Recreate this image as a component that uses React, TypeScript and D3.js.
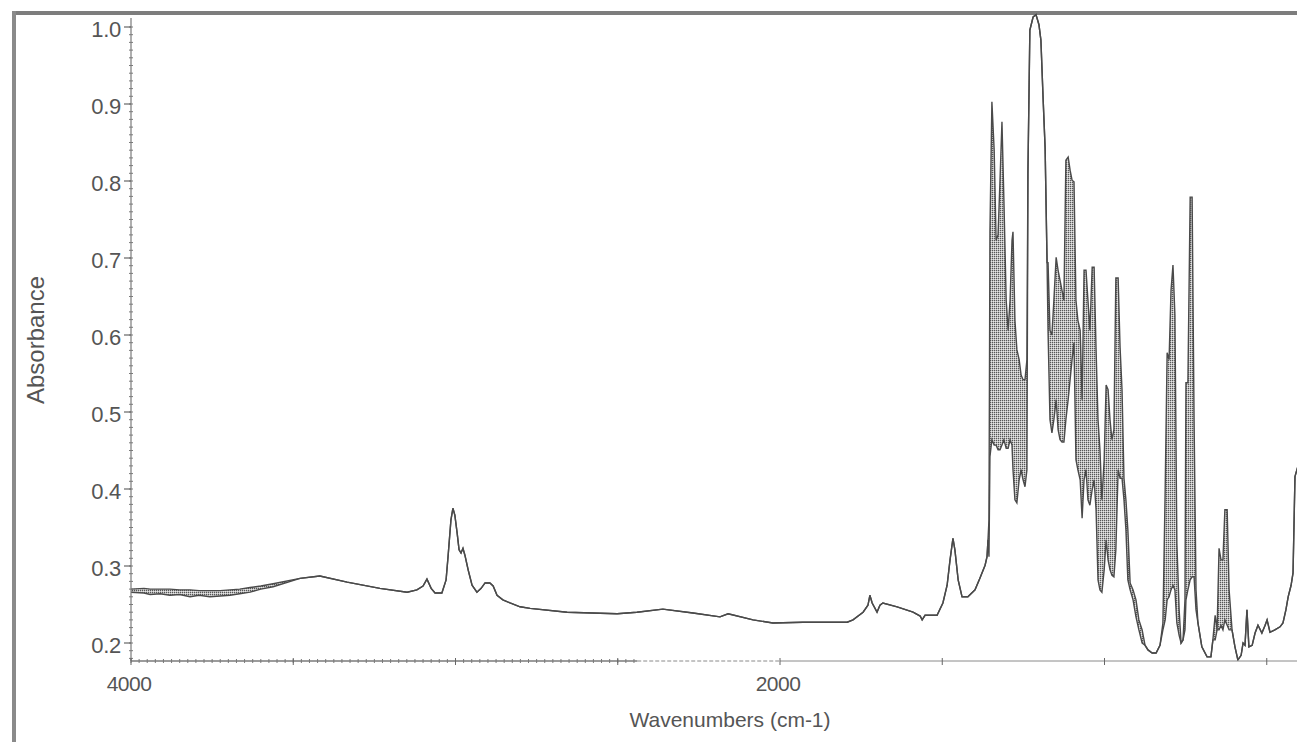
import React from "react";
import * as d3 from "d3";

// ---- axis definitions ----
const yTickValues = [0.2, 0.3, 0.4, 0.5, 0.6, 0.7, 0.8, 0.9, 1.0];
const yTickLabels = ["0.2", "0.3", "0.4", "0.5", "0.6", "0.7", "0.8", "0.9", "1.0"];
const xLabelValues = [4000, 2000];
const xLabelTexts = ["4000", "2000"];
const xMajorTicks = [4000, 3500, 3000, 2500, 2000, 1500, 1000, 500];
const xTitle = "Wavenumbers (cm-1)";
const yTitle = "Absorbance";

// ---- spectrum: [wavenumber, upper absorbance, lower absorbance] ----
// (where the trace oscillates densely the reference shows a hatched band between upper/lower)
const spectrum: number[][] = [
  [4000, 0.27, 0.266], [3960, 0.271, 0.265], [3941, 0.27, 0.263], [3910, 0.27, 0.264],
  [3880, 0.27, 0.262], [3850, 0.269, 0.263], [3818, 0.269, 0.26], [3790, 0.268, 0.262],
  [3757, 0.268, 0.26], [3725, 0.268, 0.261], [3695, 0.269, 0.262], [3665, 0.27, 0.264],
  [3633, 0.272, 0.266], [3600, 0.274, 0.27], [3562, 0.277, 0.273],
  [3479, 0.284], [3418, 0.287], [3334, 0.279], [3233, 0.271], [3149, 0.266], [3119, 0.269],
  [3100, 0.274], [3088, 0.283], [3075, 0.271], [3063, 0.265], [3042, 0.265], [3029, 0.282],
  [3023, 0.312], [3014, 0.36], [3008, 0.375], [3002, 0.366], [2995, 0.343], [2989, 0.321],
  [2983, 0.317], [2977, 0.323], [2971, 0.314], [2961, 0.295], [2949, 0.275], [2934, 0.266],
  [2921, 0.271], [2909, 0.278], [2894, 0.278], [2884, 0.274], [2872, 0.262], [2854, 0.256],
  [2832, 0.252], [2801, 0.247], [2770, 0.245], [2656, 0.24], [2502, 0.238], [2441, 0.24],
  [2361, 0.244], [2268, 0.239], [2185, 0.234], [2160, 0.238], [2083, 0.23], [2022, 0.226],
  [1929, 0.227], [1793, 0.227], [1775, 0.23], [1744, 0.24], [1729, 0.249], [1723, 0.262],
  [1716, 0.252], [1701, 0.24], [1692, 0.249], [1683, 0.252], [1639, 0.247], [1590, 0.24],
  [1568, 0.235], [1562, 0.23], [1553, 0.236], [1516, 0.236], [1498, 0.252], [1485, 0.275],
  [1476, 0.308], [1467, 0.336], [1461, 0.321], [1451, 0.282], [1439, 0.26], [1421, 0.26],
  [1399, 0.269], [1384, 0.284], [1368, 0.301], [1362, 0.312], [1359, 0.334], [1356, 0.36, 0.312],
  [1353, 0.734, 0.442], [1347, 0.903, 0.464], [1340, 0.84, 0.457], [1334, 0.723, 0.457],
  [1328, 0.73, 0.451], [1322, 0.801, 0.451], [1316, 0.877, 0.457], [1310, 0.775, 0.464],
  [1303, 0.645, 0.453], [1297, 0.606, 0.453], [1291, 0.645, 0.464], [1285, 0.723, 0.457],
  [1282, 0.734, 0.425], [1276, 0.619, 0.386], [1270, 0.581, 0.382], [1263, 0.568, 0.412],
  [1257, 0.548, 0.425], [1251, 0.542, 0.412], [1245, 0.542, 0.403], [1239, 0.568, 0.425],
  [1236, 0.81], [1230, 0.996], [1220, 1.013], [1211, 1.016], [1202, 1.003], [1196, 0.983],
  [1189, 0.905], [1183, 0.843], [1177, 0.694], [1174, 0.694, 0.606], [1168, 0.606, 0.49],
  [1162, 0.6, 0.473], [1156, 0.645, 0.49], [1149, 0.701, 0.516], [1143, 0.684, 0.477],
  [1137, 0.671, 0.464], [1131, 0.658, 0.461], [1125, 0.645, 0.461], [1119, 0.827, 0.49],
  [1112, 0.831, 0.516], [1106, 0.814, 0.542], [1100, 0.801, 0.568], [1094, 0.799, 0.59],
  [1088, 0.645, 0.438], [1082, 0.619, 0.425], [1075, 0.606, 0.412], [1069, 0.516, 0.362],
  [1063, 0.684, 0.412], [1057, 0.684, 0.425], [1051, 0.645, 0.386], [1045, 0.606, 0.379],
  [1038, 0.688, 0.399], [1032, 0.688, 0.412], [1026, 0.581, 0.373], [1020, 0.49, 0.282],
  [1014, 0.451, 0.269], [1008, 0.386, 0.266], [1001, 0.438, 0.295], [995, 0.535, 0.334],
  [989, 0.529, 0.308], [983, 0.49, 0.295], [977, 0.464, 0.288], [971, 0.477, 0.286],
  [965, 0.674, 0.321], [958, 0.674, 0.425], [952, 0.584, 0.414], [946, 0.529, 0.414],
  [940, 0.414, 0.386], [934, 0.386, 0.347], [928, 0.347, 0.282], [921, 0.278, 0.269],
  [912, 0.269, 0.256], [903, 0.256, 0.234], [894, 0.23, 0.217], [884, 0.217, 0.2],
  [875, 0.197], [866, 0.191], [853, 0.187], [841, 0.187], [829, 0.197], [820, 0.226, 0.217],
  [813, 0.399, 0.23], [807, 0.577, 0.256], [801, 0.568, 0.26], [795, 0.658, 0.269],
  [789, 0.691, 0.275], [783, 0.626, 0.269], [777, 0.33, 0.226], [770, 0.243, 0.21],
  [764, 0.2], [758, 0.204], [752, 0.256, 0.217], [749, 0.538, 0.256], [743, 0.538, 0.269],
  [736, 0.779, 0.282], [730, 0.779, 0.286], [724, 0.49, 0.286], [718, 0.269, 0.243],
  [712, 0.226], [700, 0.195], [684, 0.182], [672, 0.182], [666, 0.204], [659, 0.236, 0.204],
  [653, 0.217], [647, 0.323, 0.217], [641, 0.308, 0.223], [635, 0.308, 0.217],
  [629, 0.373, 0.23], [622, 0.373, 0.223], [616, 0.269, 0.217], [607, 0.217], [598, 0.195],
  [589, 0.178], [579, 0.184], [573, 0.2], [567, 0.197], [561, 0.243], [555, 0.195],
  [545, 0.197], [536, 0.213], [527, 0.223], [515, 0.213], [505, 0.223], [499, 0.23],
  [490, 0.214], [475, 0.217], [459, 0.221], [450, 0.226], [441, 0.243], [434, 0.26],
  [425, 0.275], [419, 0.291], [413, 0.416], [407, 0.425], [397, 0.44],
];

const W = 1297;
const H = 742;
const FONT = "'Liberation Sans', Arial, sans-serif";
const TEXT = "#555";

export default function App() {
  const x = d3.scaleLinear().domain([4000, 2000]).range([131, 780]);
  const y = d3.scaleLinear().domain([0.2, 1.0]).range([643, 27]);
  const axisY = 661;
  const plotLeft = 131;
  const plotTop = 18;

  const hi = (d: number[]) => d[1];
  const lo = (d: number[]) => (d.length > 2 ? d[2] : d[1]);

  const area = d3.area<number[]>().x((d) => x(d[0])).y0((d) => y(lo(d))).y1((d) => y(hi(d)));
  const upper = d3.line<number[]>().x((d) => x(d[0])).y((d) => y(hi(d)));
  const lower = d3.line<number[]>().x((d) => x(d[0])).y((d) => y(lo(d)));

  const yMinor = d3.range(18, 101).map((v) => v / 100);
  const xMinor = d3.range(4000, 2440, -25);

  return (
    <svg
      width={W}
      height={H}
      style={{ position: "absolute", left: 0, top: 0, background: "#fff" }}
      fontFamily={FONT}
    >
      <defs>
        <pattern id="hatch" patternUnits="userSpaceOnUse" width="2" height="2">
          <rect x="0" y="0" width="1.4" height="1.4" fill="#575757" />
        </pattern>
        <clipPath id="plotClip">
          <rect x={plotLeft} y={0} width={W - plotLeft} height={axisY} />
        </clipPath>
      </defs>

      {/* frame */}
      <rect x={12} y={11} width={W - 12} height={4} fill="#7d7d7d" />
      <rect x={12} y={11} width={4} height={H - 11} fill="#8a8a8a" />

      {/* spectrum */}
      <g clipPath="url(#plotClip)">
        <path d={area(spectrum) || ""} fill="url(#hatch)" stroke="none" />
        <path d={lower(spectrum) || ""} fill="none" stroke="#4a4a4a" strokeWidth={1.4} />
        <path d={upper(spectrum) || ""} fill="none" stroke="#4a4a4a" strokeWidth={1.4} />
      </g>

      {/* y axis */}
      <line x1={plotLeft} x2={plotLeft} y1={plotTop} y2={axisY} stroke="#7a7a7a" strokeWidth={1.2} />
      {yMinor.map((v) => (
        <line key={"ym" + v} x1={plotLeft - 2} x2={plotLeft + 2} y1={y(v)} y2={y(v)} stroke="#7a7a7a" strokeWidth={1} />
      ))}
      {yTickValues.map((v, i) => (
        <g key={"yt" + v}>
          <line x1={plotLeft - 7} x2={plotLeft} y1={y(v)} y2={y(v)} stroke="#666" strokeWidth={1.2} />
          <text x={plotLeft - 10} y={y(v) + 2} dy="0.35em" textAnchor="end" fontSize={22} fill={TEXT} letterSpacing={-0.3}>
            {yTickLabels[i]}
          </text>
        </g>
      ))}

      {/* x axis */}
      <line x1={plotLeft} x2={x(2440)} y1={axisY} y2={axisY} stroke="#7a7a7a" strokeWidth={1.4} />
      <line x1={x(2440)} x2={x(2000)} y1={axisY} y2={axisY} stroke="#8a8a8a" strokeWidth={1} strokeDasharray="4,2" />
      <line x1={x(2000)} x2={W} y1={axisY} y2={axisY} stroke="#8a8a8a" strokeWidth={1} />
      {xMinor.map((v) => (
        <line key={"xm" + v} x1={x(v)} x2={x(v)} y1={axisY - 2} y2={axisY + 2} stroke="#7a7a7a" strokeWidth={1} />
      ))}
      {xMajorTicks.map((v) => (
        <line key={"xt" + v} x1={x(v)} x2={x(v)} y1={axisY - 3} y2={axisY + 4} stroke="#666" strokeWidth={1} />
      ))}
      {xLabelValues.map((v, i) => (
        <text key={"xl" + v} x={x(v) - 2} y={691} textAnchor="middle" fontSize={21} fill={TEXT} letterSpacing={-0.5}>
          {xLabelTexts[i]}
        </text>
      ))}

      {/* titles */}
      <text x={730} y={727} textAnchor="middle" fontSize={21} fill={TEXT}>
        {xTitle}
      </text>
      <text transform={`translate(44, 340) rotate(-90)`} textAnchor="middle" fontSize={24} fill={TEXT}>
        {yTitle}
      </text>
    </svg>
  );
}
